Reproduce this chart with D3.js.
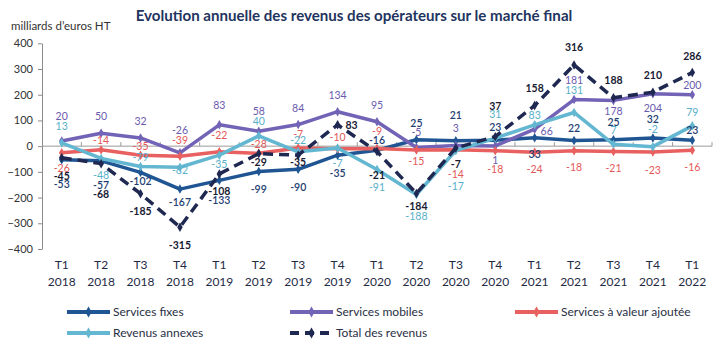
<!DOCTYPE html>
<html>
<head>
<meta charset="utf-8">
<script src="https://cdn.jsdelivr.net/npm/d3@7"></script>
<style>
  body { margin: 0; background: #fff; }
  svg { display: block; font-family: Lato, "Open Sans", sans-serif; }
</style>
</head>
<body>
<svg id="chart"></svg>
<script>
const quarters = ["T1", "T2", "T3", "T4", "T1", "T2", "T3", "T4", "T1", "T2", "T3", "T4", "T1", "T2", "T3", "T4", "T1"];
const years = ["2018", "2018", "2018", "2018", "2019", "2019", "2019", "2019", "2020", "2020", "2020", "2020", "2021", "2021", "2021", "2021", "2022"];
const yTicks = [400, 300, 200, 100, 0, -100, -200, -300, -400];

const servicesFixes = [-53, -57, -102, -167, -133, -99, -90, -35, -16, 25, 21, 23, 33, 22, 25, 32, 23];
const servicesMobiles = [20, 50, 32, -26, 83, 58, 84, 134, 95, -5, 3, 1, 66, 181, 178, 204, 200];
const valeurAjoutee = [-26, -14, -35, -39, -22, -28, -7, -10, -9, -15, -14, -18, -24, -18, -21, -23, -16];
const revenusAnnexes = [13, -48, -79, -82, -35, 40, -22, -7, -91, -188, -17, 31, 83, 131, 7, -2, 79];
const totalRevenus = [-45, -68, -185, -315, -108, -29, -35, 83, -21, -184, -7, 37, 158, 316, 188, 210, 286];

// label placement (px offsets from the point), layout only
const dyFixes = [25, 24.6, 9, 13, 20, 18, 18.5, 18.3, -10, -16.5, -25.3, -12.5, 17, -12, -17.6, -18.5, -10];
const dyMobiles = [-24.3, -17, -17, -23, -19.4, -19.5, -16, -16.5, -16, -14.7, -16.6, 14.3, 2.5, -19.2, 11.3, 14.4, -9.3];
const dyVA = [15.5, -9, -8.4, -16, -16.7, -8.6, -14, -11.6, -17.3, 11, 25, 18.7, 17.2, 17, 17.2, 18, 17.5];
const dyAnnexes = [-16.8, 17, -8.7, 3, 9, -14.7, -11.7, 15, 17.6, 22.3, 35.6, -23.4, -9.4, -22.3, -14.2, -17.2, -14];
const dyTotal = [18.7, 30.8, 18, 18, 17, 9, 7.6, 0.3, 23.6, 12.7, 16.8, -29.9, -16.8, -17.2, -17.4, -16.7, -16.5];
const dxMobiles = {12: 12};
const dxTotal = {7: 14};

const width = 721, height = 353;
const marginLeft = 42, marginRight = 9;

const series = [
  {name: "Services fixes", values: servicesFixes, color: "#1f5592", label: "#1f3f72", dy: dyFixes, dx: {}, weight: 600},
  {name: "Services mobiles", values: servicesMobiles, color: "#7263b6", label: "#6a5bae", dy: dyMobiles, dx: dxMobiles, weight: 400},
  {name: "Services à valeur ajoutée", values: valeurAjoutee, color: "#e8605f", label: "#e35858", dy: dyVA, dx: {}, weight: 400},
  {name: "Revenus annexes", values: revenusAnnexes, color: "#63b7d0", label: "#58afca", dy: dyAnnexes, dx: {}, weight: 400},
  {name: "Total des revenus", values: totalRevenus, color: "#1f2851", label: "#1a1c33", dy: dyTotal, dx: dxTotal, weight: 700, dashed: true}
];

const idx = d3.range(quarters.length);

const x = d3.scaleBand()
    .domain(idx)
    .range([marginLeft, width - marginRight]);

const cx = i => x(i) + x.bandwidth() / 2;

const y = d3.scaleLinear()
    .domain([-400, 400])
    .range([249, 43.3]);

const svg = d3.select("#chart")
    .attr("width", width)
    .attr("height", height)
    .attr("viewBox", [0, 0, width, height]);

// title
svg.append("text")
    .attr("x", 354)
    .attr("y", 21)
    .attr("text-anchor", "middle")
    .attr("font-size", 15.1)
    .attr("font-weight", 700)
    .attr("fill", "#1f3560")
    .text("Evolution annuelle des revenus des opérateurs sur le marché final");

svg.append("text")
    .attr("x", 11)
    .attr("y", 30)
    .attr("font-size", 11.5)
    .attr("fill", "#333")
    .text("milliards d’euros HT");

// y axis
const yAxis = svg.append("g")
    .attr("transform", `translate(${marginLeft},0)`)
    .call(d3.axisLeft(y).tickValues(yTicks).tickSize(4).tickSizeOuter(0).tickPadding(5));

yAxis.select(".domain").attr("stroke", "#8c8c8c");
yAxis.selectAll(".tick line").attr("stroke", "#8c8c8c");
yAxis.selectAll(".tick text")
    .attr("font-size", 11)
    .attr("font-family", "Lato, sans-serif")
    .attr("fill", "#333");

// zero line with category boundary ticks
const zero = svg.append("g").attr("class", "zero-line");
zero.append("line")
    .attr("x1", marginLeft)
    .attr("x2", width - marginRight)
    .attr("y1", y(0))
    .attr("y2", y(0))
    .attr("stroke", "#9a9a9a")
    .attr("stroke-width", 1);

zero.selectAll("line.tick")
    .data(idx.slice(1).map(i => x(i)).concat([width - marginRight]))
    .join("line")
    .attr("class", "tick")
    .attr("x1", d => d)
    .attr("x2", d => d)
    .attr("y1", y(0))
    .attr("y2", y(0) - 4)
    .attr("stroke", "#9a9a9a");

// x labels
const xLabels = svg.append("g")
    .attr("font-size", 12)
    .attr("fill", "#1f2a44")
    .attr("text-anchor", "middle");

xLabels.selectAll("text.q")
    .data(idx)
    .join("text")
    .attr("class", "q")
    .attr("x", cx)
    .attr("y", 269)
    .text(i => quarters[i]);

xLabels.selectAll("text.yr")
    .data(idx)
    .join("text")
    .attr("class", "yr")
    .attr("x", cx)
    .attr("y", 286)
    .text(i => years[i]);

// lines
const line = d3.line()
    .x(d => cx(d[0]))
    .y(d => y(d[1]));

const diamond = d3.symbol().type(d3.symbolDiamond).size(26);

series.forEach(s => {
    const pts = s.values.map((v, i) => [i, v]);
    const g = svg.append("g").attr("class", "series");

    g.append("path")
        .datum(pts)
        .attr("fill", "none")
        .attr("stroke", s.color)
        .attr("stroke-width", 3.5)
        .attr("stroke-dasharray", s.dashed ? "10,6" : null)
        .attr("stroke-linejoin", "round")
        .attr("d", line);

    g.selectAll("path.marker")
        .data(pts)
        .join("path")
        .attr("class", "marker")
        .attr("transform", d => `translate(${cx(d[0])},${y(d[1])})`)
        .attr("fill", s.color)
        .attr("d", diamond);
});

// labels on top
series.forEach(s => {
    svg.append("g")
        .attr("font-size", 10.5)
        .attr("font-weight", s.weight)
        .attr("fill", s.label)
        .attr("text-anchor", "middle")
        .selectAll("text")
        .data(s.values)
        .join("text")
        .attr("x", (v, i) => cx(i) + (s.dx[i] || 0))
        .attr("y", (v, i) => y(v) + s.dy[i])
        .attr("dy", "0.35em")
        .text(v => v);
});

// legend
const legendItems = [
    {s: series[0], x: 67, y: 312},
    {s: series[1], x: 290, y: 312},
    {s: series[2], x: 515, y: 312},
    {s: series[3], x: 67, y: 333},
    {s: series[4], x: 290, y: 333}
];

const legend = svg.append("g").attr("class", "legend");

legendItems.forEach(item => {
    const g = legend.append("g").attr("transform", `translate(${item.x},${item.y})`);
    g.append("line")
        .attr("x1", 0)
        .attr("x2", 43)
        .attr("stroke", item.s.color)
        .attr("stroke-width", 4)
        .attr("stroke-dasharray", item.s.dashed ? "9,6" : null);
    g.append("path")
        .attr("transform", "translate(21.5,0)")
        .attr("fill", item.s.color)
        .attr("d", d3.symbol().type(d3.symbolDiamond).size(34));
    g.append("text")
        .attr("x", 46)
        .attr("dy", "0.35em")
        .attr("font-size", 12)
        .attr("fill", "#2a2f45")
        .text(item.s.name);
});
</script>
</body>
</html>
